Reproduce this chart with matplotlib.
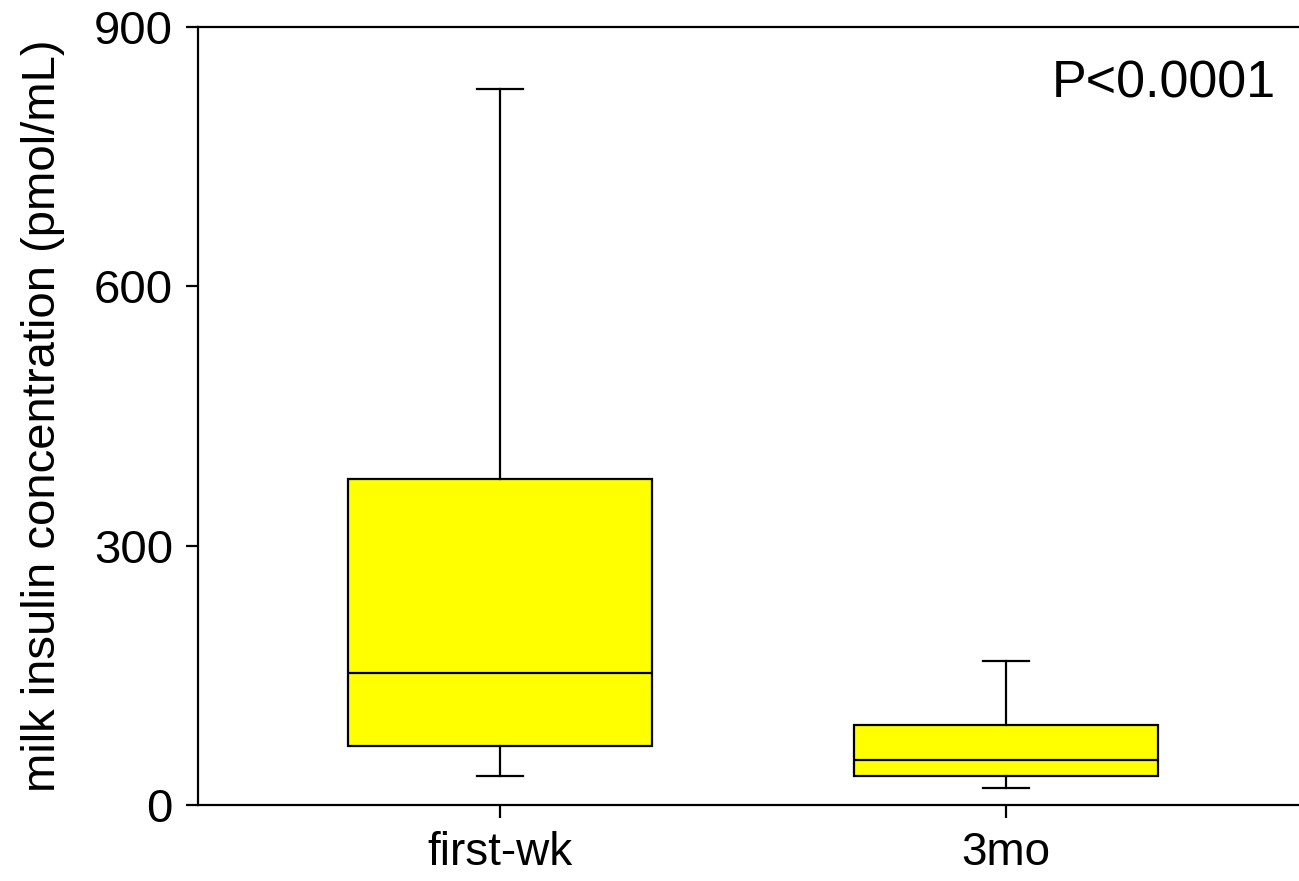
import matplotlib
matplotlib.use("Agg")
import matplotlib.pyplot as plt

plt.rcParams['font.family'] = ['Liberation Sans', 'DejaVu Sans']

# group labels and box statistics (pmol/mL)
groups = ['first-wk', '3mo']
whislo = [33, 20]
q1 = [68, 33]
med = [153, 52]
q3 = [377, 92]
whishi = [828, 167]

stats = []
for i, g in enumerate(groups):
    stats.append({'label': g, 'whislo': whislo[i], 'q1': q1[i], 'med': med[i],
                  'q3': q3[i], 'whishi': whishi[i], 'fliers': []})

fig = plt.figure(figsize=(12.99, 8.81), dpi=100)
# axes runs a bit past the right edge, like the original crop
ax = fig.add_axes([198/1299, 1-805/881, 1110/1299, 778.3/881])

lw = 1.6
ax.bxp(stats, positions=[1, 2], widths=0.6, patch_artist=True,
       boxprops=dict(facecolor='#ffff00', edgecolor='black', linewidth=lw),
       medianprops=dict(color='black', linewidth=lw),
       whiskerprops=dict(color='black', linewidth=lw),
       capprops=dict(color='black', linewidth=lw),
       capwidths=0.09)

ax.set_xlim(1 - 302/506, 2 + 302/506)
ax.set_ylim(0, 900)
ax.set_yticks([0, 300, 600, 900])
ax.set_xticks([1, 2])
ax.set_xticklabels(groups)

for s in ax.spines.values():
    s.set_linewidth(lw)
ax.spines['right'].set_visible(False)

ax.tick_params(axis='both', direction='out', length=9, width=lw,
               labelsize=34)
ax.tick_params(axis='y', pad=9)
ax.tick_params(axis='x', pad=10, labelsize=33)
ax.set_ylabel('milk insulin concentration (pmol/mL)', fontsize=34, labelpad=21)

fig.text(1276/1299, 1-97/881, 'P<0.0001', fontsize=37.5, ha='right', va='baseline')

fig.savefig('out.png', dpi=100)
